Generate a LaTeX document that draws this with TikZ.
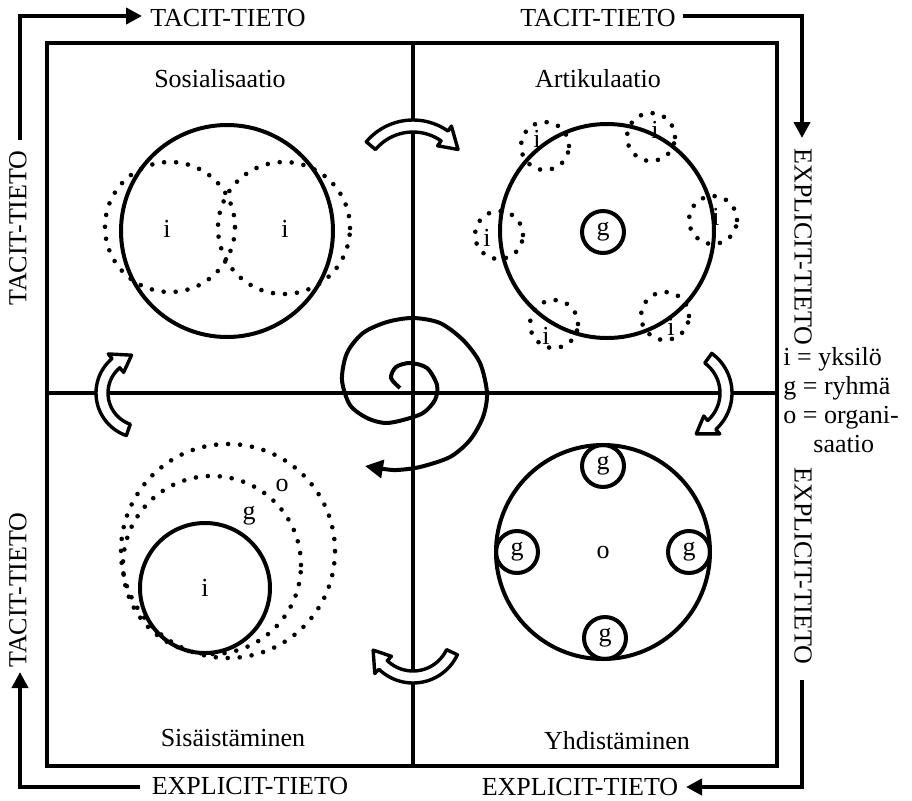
\documentclass[tikz,border=0pt]{standalone}
\usepackage{fontspec}
\setmainfont{Liberation Serif}
\usetikzlibrary{arrows.meta}

% curved hollow arrow along a circle: centre (#1,#2), radius #3,
% from angle #4, head base at angle #5, tip at angle #6
\newcommand{\bentarrow}[6]{%
  \draw[hollow]
    plot[domain=#4:#5, samples=28] ({#1+(#3+6)*cos(\x)},{#2+(#3+6)*sin(\x)})
    -- ({#1+(#3+12)*cos(#5)},{#2+(#3+12)*sin(#5)})
    -- ({#1+#3*cos(#6)},{#2+#3*sin(#6)})
    -- ({#1+(#3-12)*cos(#5)},{#2+(#3-12)*sin(#5)})
    -- plot[domain=#5:#4, samples=28] ({#1+(#3-6)*cos(\x)},{#2+(#3-6)*sin(\x)})
    -- cycle;}

\begin{document}
\begin{tikzpicture}[x=0.5pt,y=-0.5pt,
  every node/.style={font=\fontsize{13}{15}\selectfont, inner sep=0pt},
  frame/.style={line width=2.1pt},
  ring/.style={circle, draw, line width=2pt, inner sep=0pt},
  dotring/.style={circle, draw, line width=2.3pt, dash pattern=on 0pt off 6pt, line cap=round},
  flow/.style={line width=2pt, -{Triangle[length=8pt,width=8pt]}},
  hollow/.style={draw, fill=white, line width=1.7pt, line join=round},
]
\useasboundingbox (0,0) rectangle (912,800);

% frame and quadrant dividers
\draw[frame] (47,43) rectangle (777,766);
\draw[frame] (47,393) -- (777,393);
\draw[frame] (413,43) -- (413,766);

% outer labels
\node (tacitT1) at (228,18) {TACIT-TIETO};
\node (tacitT2) at (598,18) {TACIT-TIETO};
\node[rotate=90] (tacitL1) at (18,228) {TACIT-TIETO};
\node[rotate=90] (tacitL2) at (18,590) {TACIT-TIETO};
\node[rotate=-90] (explR1) at (803,247) {EXPLICIT-TIETO};
\node[rotate=-90] (explR2) at (803,566) {EXPLICIT-TIETO};
\node (explB1) at (250,786) {EXPLICIT-TIETO};
\node (explB2) at (580,787) {EXPLICIT-TIETO};

% outer flow arrows
\coordinate (tlA) at (20,140);  \coordinate (tlB) at (142,16);
\coordinate (trA) at (683,16);  \coordinate (trB) at (802,138);
\coordinate (brA) at (802,680); \coordinate (brB) at (686,787);
\coordinate (blA) at (140,787); \coordinate (blB) at (20,672);
\draw[flow] (tlA) |- (tlB);
\draw[flow] (trA) -| (trB);
\draw[flow] (brA) |- (brB);
\draw[flow] (blA) -| (blB);

% legend
\node[anchor=base west] (keyI) at (783,365) {i = yksilö};
\node[anchor=base west] (keyG) at (783,394) {g = ryhmä};
\node[anchor=base west] (keyO) at (783,423) {o = organi-};
\node[anchor=base west] (keyO2) at (813,452) {saatio};

% quadrant titles
\node (socT) at (220,79) {Sosialisaatio};
\node (artT) at (598,79) {Artikulaatio};
\node (intT) at (233,738) {Sisäistäminen};
\node (comT) at (617,741) {Yhdistäminen};

% socialisation
\node[ring, minimum size=106pt] (socBig) at (227,231) {};
\node[dotring, minimum size=65pt] (socL) at (170,227) {};
\node[dotring, minimum size=66pt] (socR) at (284,228) {};
\node (socLi) at (167,229) {i};
\node (socRi) at (285,229) {i};

% articulation
\node[ring, minimum size=107pt] (artBig) at (607,231) {};
\node[ring, minimum size=21pt] (artG) at (603,232) {g};
\node[dotring, minimum size=24pt] (artTL) at (545,146) {};
\node[dotring, minimum size=24pt] (artTR) at (651,137) {};
\node[dotring, minimum size=24pt] (artL) at (499,235) {};
\node[dotring, minimum size=24pt] (artR) at (713,220) {};
\node[dotring, minimum size=24pt] (artBL) at (554,324) {};
\node[dotring, minimum size=24pt] (artBR) at (665,316) {};
\node (artTLi) at (537,139) {i};
\node (artTRi) at (655,130) {i};
\node (artLi) at (487,238) {i};
\node (artRi) at (716,217) {i};
\node (artBLi) at (546,336) {i};
\node (artBRi) at (671,327) {i};

% internalisation
\node[ring, minimum size=65pt] (intI) at (205,588) {i};
\node[dotring, minimum size=89pt] (intG) at (212,565) {};
\node[dotring, minimum size=107pt] (intO) at (228,551) {};
\node (intGl) at (249,516) {g};
\node (intOl) at (282,485) {o};

% combination
\node[ring, minimum size=107pt] (comBig) at (603,552) {o};
\node[ring, minimum size=21pt] (comGT) at (603,466) {g};
\node[ring, minimum size=21pt] (comGB) at (605,638) {g};
\node[ring, minimum size=21pt] (comGL) at (517,552) {g};
\node[ring, minimum size=21pt] (comGR) at (689,552) {g};

% knowledge spiral
\draw[line width=2pt, -{Triangle[length=9pt,width=9pt]}]
  plot[smooth] coordinates {(400,388) (391,378) (396,367) (410,363) (427,368)
  (437,385) (435,400) (423,413) (403,420) (385,423) (367,418) (350,405)
  (342,380) (347,353) (363,333) (387,322) (413,318) (440,323) (463,340)
  (480,363) (487,393) (483,417) (470,440) (450,457) (420,467) (397,470)
  (384,469) (365,466)};

% hollow cycle arrows between quadrants
\bentarrow{413}{181}{55}{-140}{-55}{-35}
\bentarrow{683}{393}{43}{-54}{48}{72}
\bentarrow{413}{634}{43}{25}{134}{158}
\bentarrow{141}{393}{39}{109}{230}{256}

\end{tikzpicture}
\end{document}
